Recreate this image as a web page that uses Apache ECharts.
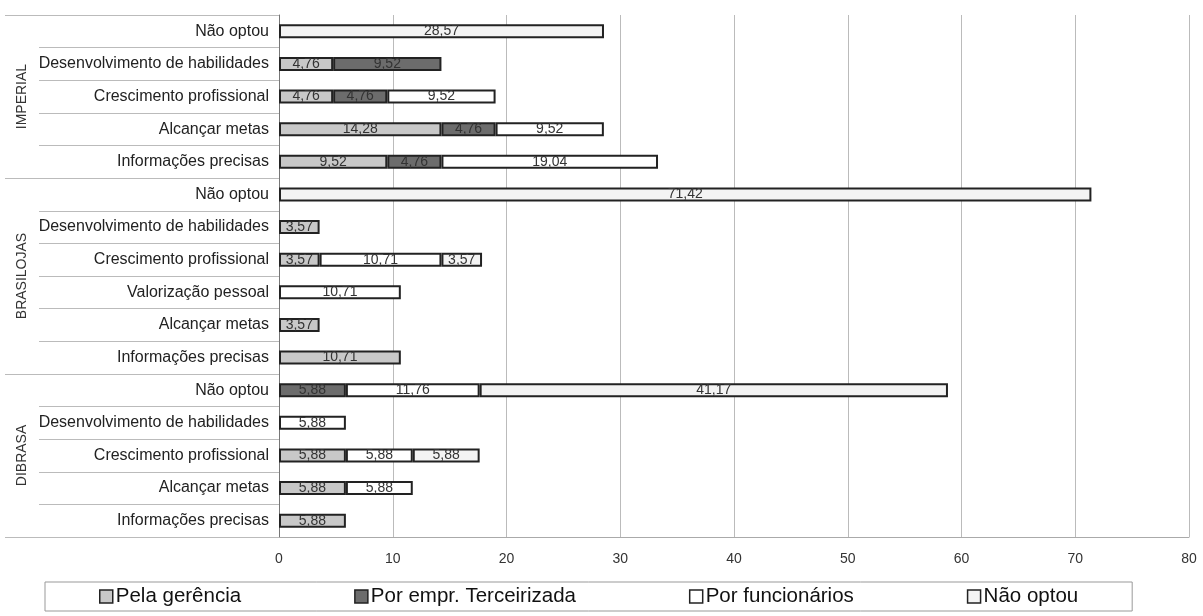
<!DOCTYPE html>
<html>
<head>
<meta charset="utf-8">
<script src="https://cdn.jsdelivr.net/npm/echarts@6/dist/echarts.min.js"></script>
<style>
html,body{margin:0;padding:0;background:#fff;}
#chart{width:1203px;height:616px;}
</style>
</head>
<body>
<div id="chart"></div>
<script>
// Categories, bottom to top
var categories = [
  'Informações precisas','Alcançar metas','Crescimento profissional','Desenvolvimento de habilidades','Não optou',
  'Informações precisas','Alcançar metas','Valorização pessoal','Crescimento profissional','Desenvolvimento de habilidades','Não optou',
  'Informações precisas','Alcançar metas','Crescimento profissional','Desenvolvimento de habilidades','Não optou'
];
var groups = ['DIBRASA','BRASILOJAS','IMPERIAL'];
var groupSizes = [5, 6, 5];
var seriesNames = ['Pela gerência','Por empr. Terceirizada','Por funcionários','Não optou'];
var gerencia     = [5.88, 5.88, 5.88, null, null, 10.71, 3.57, null, 3.57, 3.57, null, 9.52, 14.28, 4.76, 4.76, null];
var terceirizada = [null, null, null, null, 5.88, null, null, null, null, null, null, 4.76, 4.76, 4.76, 9.52, null];
var funcionarios = [null, 5.88, 5.88, 5.88, 11.76, null, null, 10.71, 10.71, null, null, 19.04, 9.52, 9.52, null, null];
var naoOptou     = [null, null, 5.88, null, 41.17, null, null, null, 3.57, null, 71.42, null, null, null, null, 28.57];
var xTicks = [0, 10, 20, 30, 40, 50, 60, 70, 80];

// group boundaries and centres from sizes
var bounds = [0], centres = [];
groupSizes.forEach(function (s, i) {
  var start = bounds[bounds.length - 1];
  centres.push(start + s / 2);
  bounds.push(start + s);
});

var colors = ['#c8c8c8', '#6c6c6c', '#ffffff', '#f3f3f3'];
var datasets = [gerencia, terceirizada, funcionarios, naoOptou];

var chart = echarts.init(document.getElementById('chart'));
var fontFamily = '"Liberation Sans", Arial, sans-serif';

var series = datasets.map(function (d, i) {
  return {
    name: seriesNames[i],
    type: 'bar',
    stack: 'total',
    barWidth: 14,
    yAxisIndex: 0,
    data: d,
    itemStyle: { color: colors[i], borderColor: '#222', borderWidth: 2 },
    label: {
      show: true,
      position: 'inside',
      color: '#333',
      fontSize: 14,
      fontFamily: fontFamily,
      formatter: function (p) { return p.value == null ? '' : p.value.toFixed(2).replace('.', ','); }
    },
    emphasis: { disabled: true }
  };
});

chart.setOption({
  animation: false,
  backgroundColor: '#fff',
  grid: { left: 279, right: 14, top: 15, bottom: 79, containLabel: false },
  legend: {
    data: seriesNames,
    left: 45,
    top: 582,
    padding: [4, 54, 4, 54],
    borderColor: '#999',
    borderWidth: 1,
    itemGap: 113,
    itemWidth: 13,
    itemHeight: 13,
    icon: 'rect',
    itemStyle: { borderColor: '#222', borderWidth: 1.5 },
    textStyle: { fontSize: 20.5, fontFamily: fontFamily, color: '#111', padding: [0, 0, 0, -2] }
  },
  xAxis: {
    type: 'value',
    min: xTicks[0],
    max: xTicks[xTicks.length - 1],
    interval: 10,
    axisLine: { show: true, lineStyle: { color: '#aaa', width: 1 } },
    axisTick: { show: false },
    axisLabel: { color: '#333', fontSize: 14, fontFamily: fontFamily, margin: 15 },
    splitLine: { show: true, lineStyle: { color: '#bbb', width: 1 } }
  },
  yAxis: [
    {
      type: 'category',
      data: categories,
      position: 'left',
      axisLine: { show: true, lineStyle: { color: '#777', width: 1 } },
      axisTick: { show: true, length: 240, interval: 0, lineStyle: { color: '#bbb', width: 1 } },
      axisLabel: { color: '#222', fontSize: 16, fontFamily: fontFamily, margin: 10, interval: 0 },
      splitLine: { show: false }
    },
    {
      type: 'value',
      min: 0,
      max: bounds[bounds.length - 1],
      position: 'left',
      axisLine: { show: false },
      splitLine: { show: false },
      axisTick: { show: true, length: 274, customValues: bounds, lineStyle: { color: '#bbb', width: 1 } },
      axisLabel: {
        show: true,
        customValues: centres,
        rotate: 90,
        margin: 250,
        color: '#333',
        fontSize: 14,
        fontFamily: fontFamily,
        formatter: function (v) {
          for (var i = 0; i < centres.length; i++) { if (Math.abs(centres[i] - v) < 1e-6) return groups[i]; }
          return '';
        }
      }
    }
  ],
  series: series
});
</script>
</body>
</html>
